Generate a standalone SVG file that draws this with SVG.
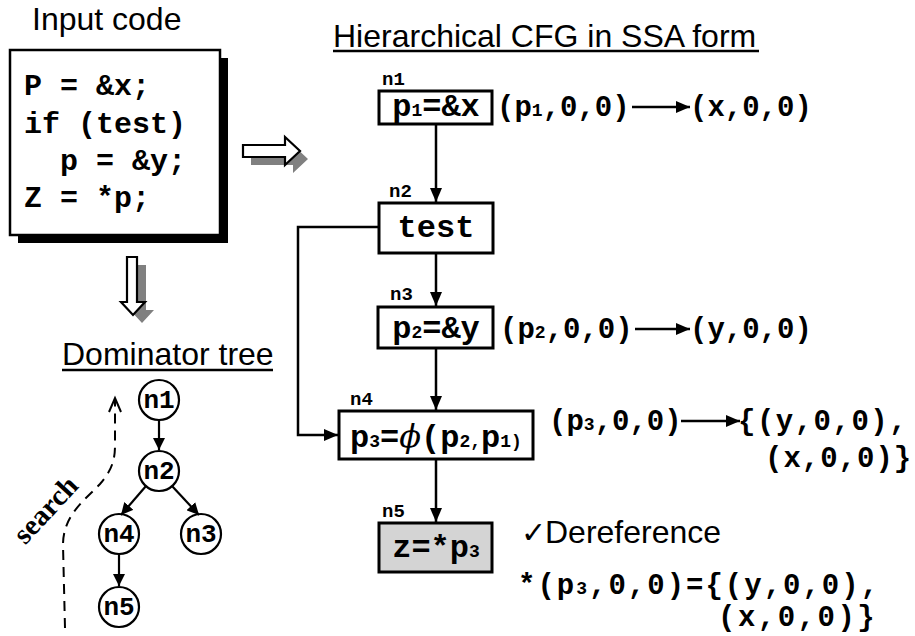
<svg xmlns="http://www.w3.org/2000/svg" width="915" height="636" viewBox="0 0 915 636">
  <style>
    .ttl { font-family: "Liberation Sans", Arial, sans-serif; font-size: 32px; fill: #000; }
    .mono { font-family: "Liberation Mono", "Courier New", monospace; font-weight: bold; fill: #000; }
    .code { font-size: 30px; }
    .lbl { font-size: 19px; }
    .btxt { font-size: 32px; text-anchor: middle; }
    .row { font-size: 29px; }
    .sub { font-size: 18px; }
    .node { fill: #fff; stroke: #000; stroke-width: 3; }
    .shade { fill: #d4d4d4; }
    .circ { fill: #fff; stroke: #000; stroke-width: 2.2; }
    .tlbl { font-size: 26px; text-anchor: middle; }
    .edge { fill: none; stroke: #000; stroke-width: 2.5; }
    .tedge { fill: none; stroke: #000; stroke-width: 2.2; }
    .uline { stroke: #000; stroke-width: 2.5; }
    .hollow { fill: #fff; stroke: #000; stroke-width: 2.2; stroke-linejoin: miter; }
    .ghost { fill: #808080; }
  </style>
  <defs>
    <marker id="ah" viewBox="0 0 14 12" refX="14" refY="6" markerWidth="14" markerHeight="12" markerUnits="userSpaceOnUse" orient="auto">
      <path d="M0,0 L14,6 L0,12 z" fill="#000"/>
    </marker>
    <marker id="ahs" viewBox="0 0 12 12" refX="12" refY="6" markerWidth="12" markerHeight="12" markerUnits="userSpaceOnUse" orient="auto">
      <path d="M0,0 L12,6 L0,12 z" fill="#000"/>
    </marker>
  </defs>

  <!-- input program -->
  <g id="input-code">
    <text class="ttl" x="32" y="30" font-size="31">Input code</text>
    <rect x="18" y="58" width="210" height="185" fill="#000"/>
    <rect x="10" y="50" width="210" height="185" fill="#fff" stroke="#000" stroke-width="2.5"/>
    <text class="mono code" x="24" y="95">P = &amp;x;</text>
    <text class="mono code" x="24" y="133">if (test)</text>
    <text class="mono code" x="60" y="170">p = &amp;y;</text>
    <text class="mono code" x="24" y="207">Z = *p;</text>
  </g>

  <!-- block arrows between panels -->
  <g id="to-cfg">
    <path class="ghost" d="M251,153 H293 V145 L308,159 L293,173 V165 H251 z"/>
    <path class="hollow" d="M243,145 H285 V137 L300,151 L285,165 V157 H243 z"/>
  </g>
  <g id="to-domtree">
    <path class="ghost" d="M136,265 H146 V310 H154 L142,323 L130,310 H136 z"/>
    <path class="hollow" d="M127,257 H137 V302 H145 L133,315 L121,302 H127 z"/>
  </g>

  <!-- CFG title -->
  <text class="ttl" x="333" y="47" font-size="32.5">Hierarchical CFG in SSA form</text>
  <line class="uline" x1="333" y1="51" x2="759" y2="51"/>

  <!-- CFG nodes -->
  <g id="n1">
    <text class="mono lbl" x="382" y="85">n1</text>
    <rect class="node" x="379" y="91" width="113" height="33"/>
    <text class="mono btxt" x="436" y="116">p<tspan class="sub">1</tspan>=&amp;x</text>
  </g>
  <g id="n2">
    <text class="mono lbl" x="389" y="197">n2</text>
    <rect class="node" x="379" y="203" width="114" height="50"/>
    <text class="mono btxt" x="436" y="237">test</text>
  </g>
  <g id="n3">
    <text class="mono lbl" x="390" y="300">n3</text>
    <rect class="node" x="378" y="307" width="115" height="41"/>
    <text class="mono btxt" x="436" y="338">p<tspan class="sub">2</tspan>=&amp;y</text>
  </g>
  <g id="n4">
    <text class="mono lbl" x="350" y="405">n4</text>
    <rect class="node" x="339" y="411" width="194" height="48"/>
    <text class="mono btxt" x="436" y="447">p<tspan class="sub">3</tspan>=<tspan font-family="'DejaVu Serif', serif" font-style="italic" font-weight="normal">ϕ</tspan>(p<tspan class="sub">2,</tspan>p<tspan class="sub">1)</tspan></text>
  </g>
  <g id="n5">
    <text class="mono lbl" x="382" y="517">n5</text>
    <rect class="node shade" x="379" y="523" width="113" height="49"/>
    <text class="mono btxt" x="436" y="557">z=*p<tspan class="sub">3</tspan></text>
  </g>

  <!-- points-to facts -->
  <g id="facts">
    <text class="mono row" x="497" y="116">(p<tspan class="sub">1</tspan>,0,0)</text>
    <text class="mono row" x="690" y="116">(x,0,0)</text>
    <text class="mono row" x="500" y="338">(p<tspan class="sub">2</tspan>,0,0)</text>
    <text class="mono row" x="690" y="338">(y,0,0)</text>
    <text class="mono row" x="549" y="430">(p<tspan class="sub">3</tspan>,0,0)</text>
    <text class="mono row" x="738" y="430" letter-spacing="1.5">{(y,0,0),</text>
    <text class="mono row" x="765" y="467" letter-spacing="1">(x,0,0)}</text>
  </g>

  <!-- dereference result -->
  <g id="deref">
    <text class="ttl" x="521" y="543" font-size="28"><tspan font-family="'DejaVu Sans', sans-serif" font-size="30">✓</tspan><tspan x="545">Dereference</tspan></text>
    <text class="mono row" x="518" y="594" letter-spacing="2">*(p<tspan class="sub">3</tspan>,0,0)={(y,0,0),</text>
    <text class="mono row" x="718" y="626" letter-spacing="2.5">(x,0,0)}</text>
  </g>

  <!-- dominator tree -->
  <text class="ttl" x="62" y="365" font-size="31.5">Dominator tree</text>
  <line class="uline" x1="62" y1="370" x2="273" y2="370"/>
  <g id="d-n1">
    <circle class="circ" cx="159" cy="400" r="20"/>
    <text class="mono tlbl" x="159" y="408">n1</text>
  </g>
  <g id="d-n2">
    <circle class="circ" cx="159" cy="471" r="20"/>
    <text class="mono tlbl" x="159" y="479">n2</text>
  </g>
  <g id="d-n4">
    <circle class="circ" cx="119" cy="534" r="20"/>
    <text class="mono tlbl" x="119" y="542">n4</text>
  </g>
  <g id="d-n3">
    <circle class="circ" cx="201" cy="534" r="20"/>
    <text class="mono tlbl" x="201" y="542">n3</text>
  </g>
  <g id="d-n5">
    <circle class="circ shade" cx="119" cy="607" r="20"/>
    <text class="mono tlbl" x="119" y="615">n5</text>
  </g>

  <!-- search direction -->
  <g id="search">
    <path d="M65,628 L63,545 C63,515 85,500 100,484 C112,470 115,460 115,445 L115,400" fill="none" stroke="#000" stroke-width="2" stroke-dasharray="10,7"/>
    <polyline points="109,412 115,398 121,412" fill="none" stroke="#000" stroke-width="2"/>
    <text x="46" y="519" transform="rotate(-47 46 510)" text-anchor="middle" font-family="'Liberation Serif', 'Times New Roman', serif" font-weight="bold" font-size="29">search</text>
  </g>

  <!-- connectors -->
  <g id="connectors">
    <path class="edge" d="M436,124 V202" marker-end="url(#ah)"/>
    <path class="edge" d="M436,253 V306" marker-end="url(#ah)"/>
    <path class="edge" d="M436,348 V410" marker-end="url(#ah)"/>
    <path class="edge" d="M436,459 V522" marker-end="url(#ah)"/>
    <path class="edge" d="M379,227 H298 V435 H338" marker-end="url(#ah)"/>
    <path class="edge" d="M632,107 H690" marker-end="url(#ah)"/>
    <path class="edge" d="M635,329 H690" marker-end="url(#ah)"/>
    <path class="edge" d="M681,421 H740" marker-end="url(#ah)"/>
    <path class="tedge" d="M159,420 V450" marker-end="url(#ahs)"/>
    <path class="tedge" d="M146,486 L121,515" marker-end="url(#ahs)"/>
    <path class="tedge" d="M172,486 L199,515" marker-end="url(#ahs)"/>
    <path class="tedge" d="M119,554 V586" marker-end="url(#ahs)"/>
  </g>
</svg>
